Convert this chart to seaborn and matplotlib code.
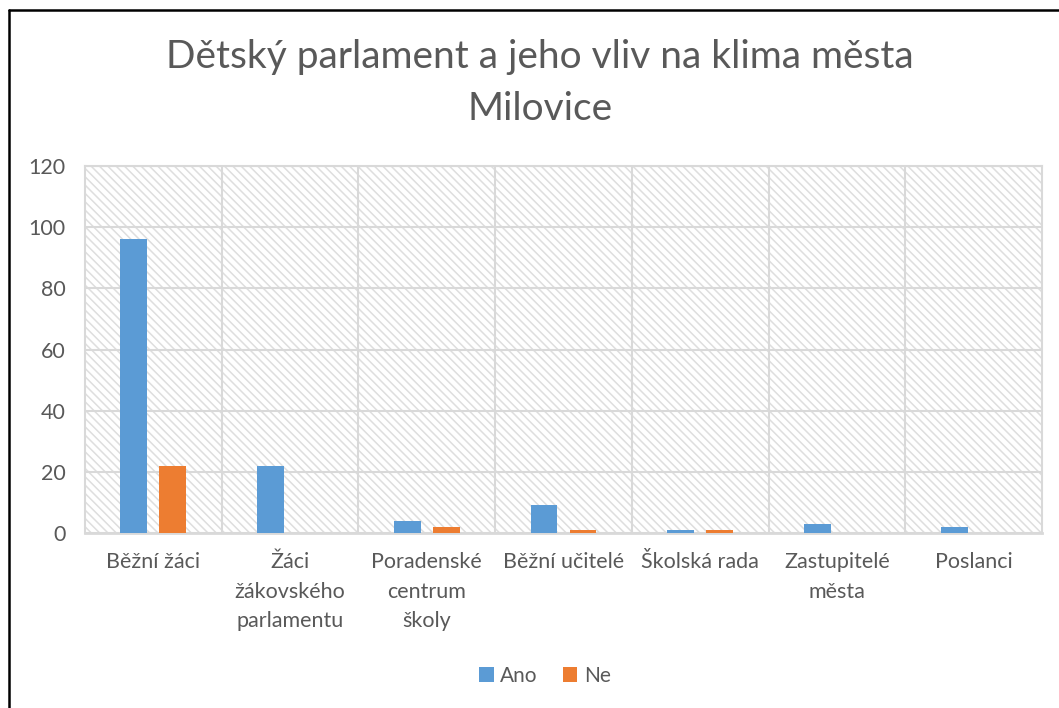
import matplotlib
matplotlib.use("Agg")
import matplotlib.pyplot as plt
import seaborn as sns
import pandas as pd
from matplotlib.patches import Rectangle
from matplotlib.lines import Line2D

categories = ["Běžní žáci", "Žáci\nžákovského\nparlamentu", "Poradenské\ncentrum\nškoly",
              "Běžní učitelé", "Školská rada", "Zastupitelé\nměsta", "Poslanci"]
ano = [96, 22, 4, 9, 1, 3, 2]
ne = [22, 0, 2, 1, 1, 0, 0]
series = ["Ano", "Ne"]
colors = ["#5B9BD5", "#ED7D31"]
yticks = [0, 20, 40, 60, 80, 100, 120]

df = pd.DataFrame({
    "cat": categories * 2,
    "val": ano + ne,
    "ser": ["Ano"] * len(categories) + ["Ne"] * len(categories),
})

sns.set_theme(style="white")
plt.rcParams["font.family"] = ["Lato", "DejaVu Sans"]
plt.rcParams["hatch.linewidth"] = 1.1
text_col = "#595959"
grid_col = "#d9d9d9"

fig = plt.figure(figsize=(10.59, 7.08), dpi=100)
ax = fig.add_axes([85/1059, 1-533/708, (1042-85)/1059, (533-166)/708])

bg = Rectangle((0, 0), 1, 1, transform=ax.transAxes, facecolor="white",
               edgecolor="#dedede", hatch="\\\\\\\\", linewidth=0, zorder=0.1)
ax.add_patch(bg)

sns.barplot(data=df, x="cat", y="val", hue="ser", palette=colors, ax=ax,
            width=0.57, gap=0.31, saturation=1, legend=True, zorder=3,
            linewidth=0)

ax.set_ylim(0, 120)
ax.set_xlim(-0.5, len(categories) - 0.5)
ax.set_yticks(yticks)
ax.set_xticks([i + 0.5 for i in range(len(categories) - 1)], minor=True)
ax.set_axisbelow(True)
ax.grid(axis="y", which="major", color=grid_col, linewidth=1.5)
ax.grid(axis="x", which="minor", color=grid_col, linewidth=1.5)
ax.grid(axis="x", which="major", visible=False)
for s in ax.spines.values():
    s.set_color(grid_col)
    s.set_linewidth(1.5)
    s.set_zorder(1)
ax.spines["bottom"].set_linewidth(2)
ax.tick_params(axis="both", which="both", length=0)
ax.tick_params(axis="y", pad=14, labelsize=15.5, labelcolor=text_col)
ax.tick_params(axis="x", pad=14, labelsize=15.5, labelcolor=text_col)
for lbl in ax.get_xticklabels():
    lbl.set_linespacing(1.59)
    lbl.set_verticalalignment("top")
ax.set_xlabel("")
ax.set_ylabel("")

fig.text(0.51, 1-83/708, "Dětský parlament a jeho vliv na klima města\nMilovice",
         ha="center", va="center", fontsize=28, color=text_col, linespacing=1.53)

leg = ax.legend(loc="center", bbox_to_anchor=(545/1059, 1-676/708), bbox_transform=fig.transFigure,
                ncol=2, frameon=False, fontsize=15, handlelength=0.7, handleheight=0.7,
                handletextpad=0.3, columnspacing=1.2)
for t in leg.get_texts():
    t.set_color(text_col)

fig.add_artist(Line2D([8.5/1059, 8.5/1059], [0, 1-9.5/708], transform=fig.transFigure,
                      color="black", linewidth=1.8))
fig.add_artist(Line2D([8.5/1059, 1], [1-9.5/708, 1-9.5/708], transform=fig.transFigure,
                      color="black", linewidth=1.8))

fig.savefig("out.png", dpi=100)
